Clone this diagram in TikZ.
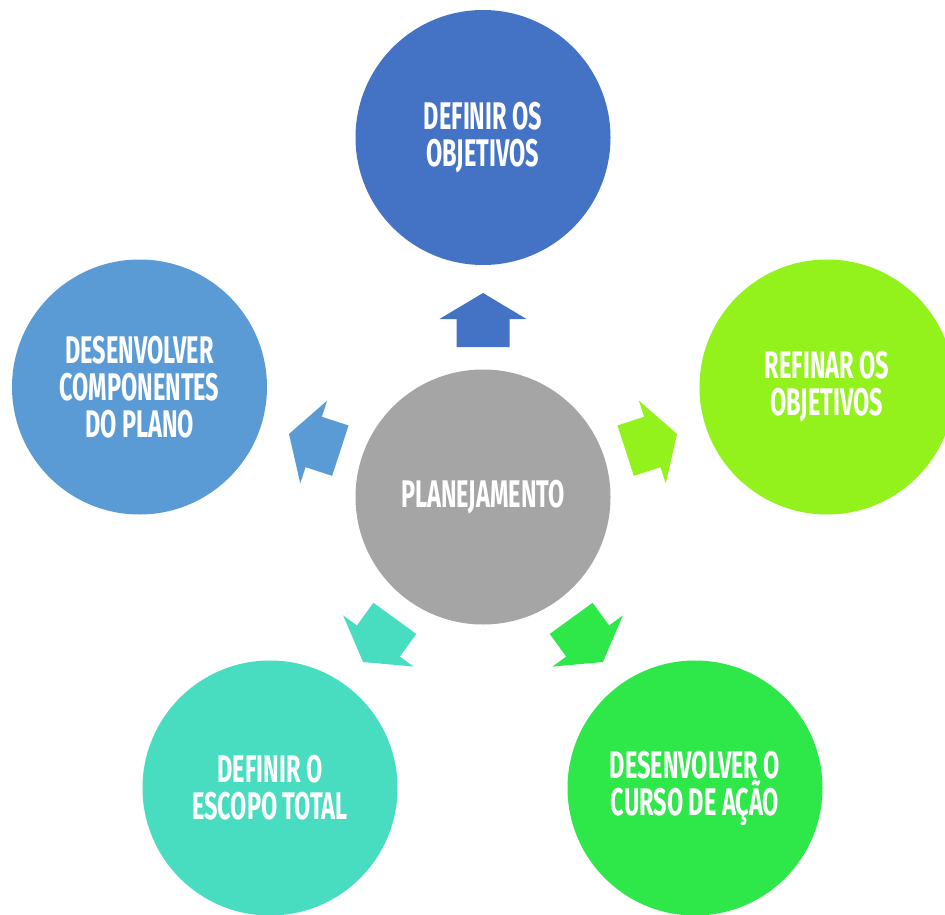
\documentclass[tikz,border=0pt]{standalone}
\usepackage{fontspec}
\newfontfamily\condfont[FakeStretch=0.61]{Fira Sans}
\definecolor{cTop}{HTML}{4472C4}
\definecolor{cRight}{RGB}{148,242,28}
\definecolor{cLeft}{HTML}{5B9BD5}
\definecolor{cBL}{RGB}{72,221,192}
\definecolor{cBR}{RGB}{46,232,74}
\definecolor{cMid}{HTML}{A5A5A5}
\tikzset{
  bubble/.style={circle, minimum size=255pt, inner sep=0pt, draw=none, text=white,
    align=center, font=\condfont\bfseries\fontsize{38.5}{37}\selectfont},
  blockarrow/.style={draw=none}
}
\begin{document}
\begin{tikzpicture}[x=1pt,y=-1pt]
\useasboundingbox (0,0) rectangle (945,915);
\clip (0,0) rectangle (945,915);
\fill[white] (0,0) rectangle (945,915);
% arrows
\foreach \ang/\col in {0/cTop, -72/cRight, -144/cBR, 144/cBL, 72/cLeft}{
  \begin{scope}[shift={(483,497)}, rotate=\ang]
    \fill[\col] (-26.5,-150) -- (-26.5,-178) -- (-43.5,-178) -- (0,-204)
      -- (43.5,-178) -- (26.5,-178) -- (26.5,-150) -- cycle;
  \end{scope}
}
\node[bubble, fill=cMid] (mid) at (483,497) {PLANEJAMENTO};
\node[bubble, fill=cTop] (top) at (483,137.5) {DEFINIR OS\\OBJETIVOS};
\node[bubble, fill=cRight] (right) at (827,387) {REFINAR OS\\OBJETIVOS};
\node[bubble, fill=cLeft] (left) at (139.5,387) {DESENVOLVER\\COMPONENTES\\DO PLANO};
\node[bubble, fill=cBL] (bl) at (270,788) {DEFINIR O\\ESCOPO TOTAL};
\node[bubble, fill=cBR] (br) at (695,788) {DESENVOLVER O\\CURSO DE AÇÃO};
\end{tikzpicture}
\end{document}
